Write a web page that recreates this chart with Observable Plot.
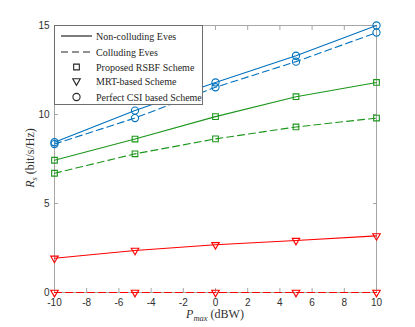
<!DOCTYPE html>
<html>
<head>
<meta charset="utf-8">
<script src="https://cdn.jsdelivr.net/npm/d3@7"></script>
<script src="https://cdn.jsdelivr.net/npm/@observablehq/plot@0.6"></script>
<style>
  html, body { margin: 0; padding: 0; background: #fff; }
  #wrap { position: relative; width: 415px; height: 327px; }
  #legend { position: absolute; left: 54px; top: 25px; width: 149px; height: 80px;
            background: #fff; border: 1px solid #6e6e6e; box-sizing: border-box; }
  .serif { font-family: "Liberation Serif", "Times New Roman", serif; }
</style>
</head>
<body>
<div id="wrap"></div>
<script>
// ---- data ----
const pmax = [-10, -5, 0, 5, 10];
const rsbfNonColluding = [7.43, 8.62, 9.88, 11.0, 11.8];
const rsbfColluding    = [6.70, 7.79, 8.63, 9.30, 9.80];
const mrtNonColluding  = [1.92, 2.36, 2.68, 2.92, 3.18];
const mrtColluding     = [0, 0, 0, 0, 0];
const csiNonColluding  = [8.44, 10.22, 11.80, 13.30, 15.0];
const csiColluding     = [8.34, 9.80, 11.53, 12.97, 14.60];
const xTicks = [-10, -8, -6, -4, -2, 0, 2, 4, 6, 8, 10];
const yTicks = [0, 5, 10, 15];
const legendLabels = ["Non-colluding Eves", "Colluding Eves", "Proposed RSBF Scheme", "MRT-based Scheme", "Perfect CSI based Scheme"];

const series = [
  {scheme: "rsbf", eves: "non", values: rsbfNonColluding, color: "#1b961b"},
  {scheme: "rsbf", eves: "col", values: rsbfColluding,    color: "#1b961b"},
  {scheme: "mrt",  eves: "non", values: mrtNonColluding,  color: "#ff0000"},
  {scheme: "mrt",  eves: "col", values: mrtColluding,     color: "#ff0000"},
  {scheme: "csi",  eves: "non", values: csiNonColluding,  color: "#0072bd"},
  {scheme: "csi",  eves: "col", values: csiColluding,     color: "#0072bd"}
];
const rows = series.flatMap((s, i) => s.values.map((v, j) => ({id: i, scheme: s.scheme, eves: s.eves, color: s.color, x: pmax[j], y: v})));

const axisColor = "#a6a6a6";
const textColor = "#303030";
const fmt = d => String(d);

const lineMarks = series.map((s, i) => Plot.line(rows.filter(r => r.id === i), {
  x: "x", y: "y", stroke: s.color, strokeWidth: 1.1,
  strokeDasharray: s.eves === "col" ? "7,4" : null
}));
const dotMarks = [
  Plot.dot(rows.filter(r => r.scheme === "rsbf"), {x: "x", y: "y", symbol: "square", r: 3.2, stroke: "color", fill: "none", strokeWidth: 1.1}),
  Plot.dot(rows.filter(r => r.scheme === "mrt"), {x: "x", y: "y", symbol: "triangle", rotate: 180, r: 2.8, stroke: "color", fill: "none", strokeWidth: 1.1}),
  Plot.dot(rows.filter(r => r.scheme === "csi"), {x: "x", y: "y", symbol: "circle", r: 3.6, stroke: "color", fill: "none", strokeWidth: 1.1})
];

const chart = Plot.plot({
  width: 415, height: 327,
  marginLeft: 54, marginRight: 39, marginTop: 25, marginBottom: 35,
  x: {domain: [-10, 10]},
  y: {domain: [0, 15]},
  color: {type: "identity"},
  style: {fontFamily: "'Liberation Sans', Arial, sans-serif", fontSize: "10px", color: textColor, background: "#fff"},
  marks: [
    // inward ticks on all four sides
    Plot.axisX({ticks: xTicks, anchor: "bottom", tickSize: -4, text: null, label: null, stroke: axisColor}),
    Plot.axisX({ticks: xTicks, anchor: "top", tickSize: -4, text: null, label: null, stroke: axisColor}),
    Plot.axisY({ticks: yTicks, anchor: "left", tickSize: -4, text: null, label: null, stroke: axisColor}),
    Plot.axisY({ticks: yTicks, anchor: "right", tickSize: -4, text: null, label: null, stroke: axisColor}),
    // tick labels
    Plot.axisX({ticks: xTicks, anchor: "bottom", tickSize: 0, tickPadding: 6, tickFormat: fmt, label: null, fill: textColor}),
    Plot.axisY({ticks: yTicks, anchor: "left", tickSize: 0, tickPadding: 5, tickFormat: fmt, label: null, fill: textColor}),
    Plot.frame({stroke: axisColor, strokeWidth: 1}),
    ...lineMarks,
    ...dotMarks
  ]
});

const wrap = document.getElementById("wrap");
wrap.appendChild(chart);

// axis labels with sub-scripts
const svg = d3.select(chart);
const xl = svg.append("text").attr("class", "serif")
  .attr("x", 215).attr("y", 318).attr("text-anchor", "middle")
  .style("font-size", "12px").attr("fill", textColor);
xl.append("tspan").attr("font-style", "italic").text("P");
xl.append("tspan").attr("font-style", "italic").style("font-size", "8.5px").attr("dy", 3).text("max");
xl.append("tspan").attr("dy", -3).text(" (dBW)");

const yl = svg.append("text").attr("class", "serif")
  .attr("transform", "translate(34,158) rotate(-90)").attr("text-anchor", "middle")
  .style("font-size", "12px").attr("fill", textColor);
yl.append("tspan").attr("font-style", "italic").text("R");
yl.append("tspan").attr("font-style", "italic").style("font-size", "8.5px").attr("dy", 3).text("s");
yl.append("tspan").attr("dy", -3).text(" (bit/s/Hz)");

// legend
const leg = d3.select(wrap).append("div").attr("id", "legend");
const ls = leg.append("svg").attr("width", 147).attr("height", 78);
const rowY = [10, 26, 41, 55, 71];
const lc = "#262626";
legendLabels.forEach((lab, i) => {
  const y = rowY[i];
  if (i === 0) ls.append("line").attr("x1", 6).attr("x2", 37).attr("y1", y).attr("y2", y).attr("stroke", lc).attr("stroke-width", 1.2);
  if (i === 1) ls.append("line").attr("x1", 6).attr("x2", 37).attr("y1", y).attr("y2", y).attr("stroke", lc).attr("stroke-width", 1.2).attr("stroke-dasharray", "7,4");
  if (i === 2) ls.append("path").attr("d", d3.symbol(d3.symbolSquare, 3.2 * 3.2 * Math.PI)()).attr("transform", `translate(21.5,${y})`).attr("fill", "none").attr("stroke", lc).attr("stroke-width", 1.1);
  if (i === 3) ls.append("path").attr("d", d3.symbol(d3.symbolTriangle, 2.8 * 2.8 * Math.PI)()).attr("transform", `translate(21.5,${y}) rotate(180)`).attr("fill", "none").attr("stroke", lc).attr("stroke-width", 1.1);
  if (i === 4) ls.append("circle").attr("cx", 21.5).attr("cy", y).attr("r", 3.6).attr("fill", "none").attr("stroke", lc).attr("stroke-width", 1.1);
  ls.append("text").attr("class", "serif").attr("x", 41).attr("y", y).attr("dy", "0.35em")
    .style("font-size", "10px").attr("fill", lc).text(lab);
});
</script>
</body>
</html>
